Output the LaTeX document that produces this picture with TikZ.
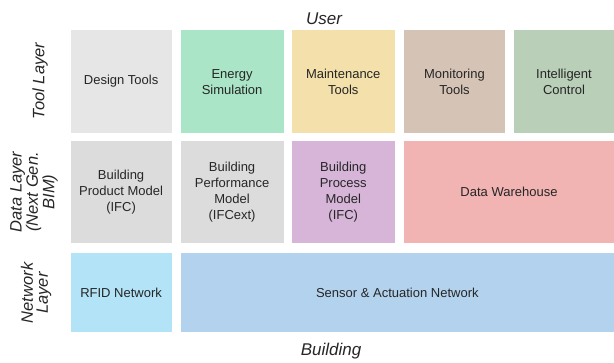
\documentclass[tikz,border=0pt]{standalone}
\usepackage{fontspec}
\setmainfont{Liberation Sans}
\definecolor{designc}{HTML}{E6E6E6}
\definecolor{energyc}{HTML}{A9E5C6}
\definecolor{maintc}{HTML}{F3E0AA}
\definecolor{monitc}{HTML}{D5C3B5}
\definecolor{intelc}{HTML}{B9CFB8}
\definecolor{modelc}{HTML}{DCDCDC}
\definecolor{processc}{HTML}{D6B5D8}
\definecolor{warec}{HTML}{F2B3B3}
\definecolor{rfidc}{HTML}{B3E3F7}
\definecolor{sensorc}{HTML}{B3D2EE}
\tikzset{
  blk/.style={inner sep=0pt, align=center, text=black!85,
    font=\fontsize{13}{16}\selectfont},
  toolrow/.style={blk, minimum height=102.2pt},
  datarow/.style={blk, minimum height=102.6pt},
  netrow/.style={blk, minimum height=78.7pt},
  edge/.style={align=center, text=black!85,
    font=\fontsize{17}{17}\selectfont\itshape},
  lyr/.style={rotate=90, align=center, text=black!85,
    font=\fontsize{16.5}{15}\selectfont\itshape}
}
\begin{document}
\begin{tikzpicture}[x=1pt,y=-1pt]
            \useasboundingbox (0,0) rectangle (614,363);
            \node[edge] (user) at (324,19) {User};
            \node[lyr] (tool) at (40,81) {Tool Layer};
            \node[lyr] (data) at (34,192) {Data Layer\\(Next Gen.\\BIM)};
            \node[lyr] (net) at (36,293) {Network\\Layer};
            \node[edge] (bldg) at (331,351) {Building};
            \node[toolrow, fill=designc, minimum width=101.2pt] (design) at (121.1,81.6) {Design Tools};
            \node[toolrow, fill=energyc, minimum width=102.8pt] (energy) at (232.1,81.6) {Energy\\Simulation};
            \node[toolrow, fill=maintc, minimum width=102.5pt] (maint) at (343.25,81.6) {Maintenance\\Tools};
            \node[toolrow, fill=monitc, minimum width=101pt] (monit) at (454.5,81.6) {Monitoring\\Tools};
            \node[toolrow, fill=intelc, minimum width=100pt] (intel) at (564,81.6) {Intelligent\\Control};
            \node[datarow, fill=modelc, minimum width=101.2pt] (product) at (121.1,192) {Building\\Product Model\\(IFC)};
            \node[datarow, fill=modelc, minimum width=102.8pt] (perf) at (232.1,192) {Building\\Performance\\Model\\(IFCext)};
            \node[datarow, fill=processc, minimum width=102.5pt] (process) at (343.25,192) {Building\\Process\\Model\\(IFC)};
            \node[datarow, fill=warec, minimum width=210pt] (ware) at (509,192) {Data Warehouse};
            \node[netrow, fill=rfidc, minimum width=101.2pt] (rfid) at (121.1,292.65) {RFID Network};
            \node[netrow, fill=sensorc, minimum width=433.3pt] (sensor) at (397.35,292.65) {Sensor \& Actuation Network};
        \end{tikzpicture}
\end{document}
